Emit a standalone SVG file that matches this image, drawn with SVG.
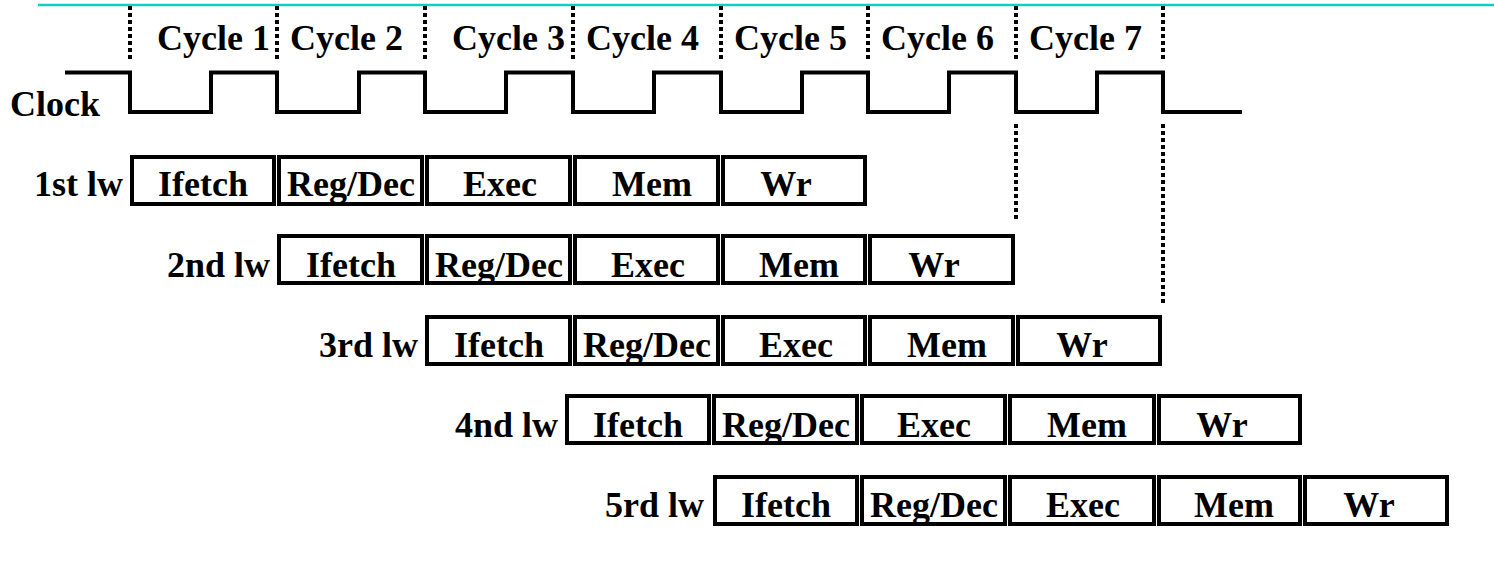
<svg xmlns="http://www.w3.org/2000/svg" width="1494" height="583" viewBox="0 0 1494 583">
  <style>
    text { font-family: "Liberation Serif", "Times New Roman", serif; font-weight: bold; font-size: 36px; fill: #000; }
    .stage rect { fill: #fff; stroke: #000; stroke-width: 4; }
    .stage text { text-anchor: middle; }
    .lbl { text-anchor: end; }
    .dot { stroke: #000; stroke-width: 4; stroke-dasharray: 4 3; fill: none; }
    .wave { stroke: #000; stroke-width: 4; fill: none; stroke-linejoin: miter; }
  </style>

  <rect x="0" y="0" width="1494" height="583" fill="#fff"/>

  <!-- title rule -->
  <line x1="38" y1="5" x2="1494" y2="5" stroke="#0CD0C0" stroke-width="2.5"/>

  <!-- cycle boundary markers -->
  <g id="connectors">
    <line class="dot" x1="130" y1="6" x2="130" y2="62"/>
    <line class="dot" x1="277" y1="6" x2="277" y2="62"/>
    <line class="dot" x1="425" y1="6" x2="425" y2="62"/>
    <line class="dot" x1="573" y1="6" x2="573" y2="62"/>
    <line class="dot" x1="721" y1="6" x2="721" y2="62"/>
    <line class="dot" x1="868" y1="6" x2="868" y2="62"/>
    <line class="dot" x1="1016" y1="6" x2="1016" y2="62"/>
    <line class="dot" x1="1163" y1="6" x2="1163" y2="62"/>
    <line class="dot" x1="1016" y1="124" x2="1016" y2="222"/>
    <line class="dot" x1="1163" y1="124" x2="1163" y2="303"/>
  </g>

  <!-- cycle labels -->
  <g id="cycles">
    <text x="157" y="50">Cycle 1</text>
    <text x="290" y="50">Cycle 2</text>
    <text x="452" y="50">Cycle 3</text>
    <text x="586" y="50">Cycle 4</text>
    <text x="734" y="50">Cycle 5</text>
    <text x="881" y="50">Cycle 6</text>
    <text x="1029" y="50">Cycle 7</text>
  </g>

  <!-- clock waveform -->
  <g id="clock">
    <text x="10" y="116">Clock</text>
    <path class="wave" d="M65,72.5 H130 V112 H211 V72.5 H277 V112 H359 V72.5 H425 V112 H506 V72.5 H573 V112 H654 V72.5 H721 V112 H802 V72.5 H868 V112 H949 V72.5 H1016 V112 H1097 V72.5 H1163 V112 H1242"/>
  </g>

  <!-- 1st lw -->
  <g id="lw1">
    <text class="lbl" x="123" y="196">1st lw</text>
    <g class="stage"><rect x="132" y="157" width="142" height="47"/><text x="203" y="196">Ifetch</text></g>
    <g class="stage"><rect x="279" y="157" width="143" height="47"/><text x="351" y="196">Reg/Dec</text></g>
    <g class="stage"><rect x="427" y="157" width="143" height="47"/><text x="500" y="196">Exec</text></g>
    <g class="stage"><rect x="575" y="157" width="143" height="47"/><text x="652" y="196">Mem</text></g>
    <g class="stage"><rect x="723" y="157" width="142" height="47"/><text x="786" y="196">Wr</text></g>
  </g>

  <!-- 2nd lw -->
  <g id="lw2">
    <text class="lbl" x="270" y="277">2nd lw</text>
    <g class="stage"><rect x="279" y="236" width="143" height="47"/><text x="351" y="277">Ifetch</text></g>
    <g class="stage"><rect x="427" y="236" width="143" height="47"/><text x="499" y="277">Reg/Dec</text></g>
    <g class="stage"><rect x="575" y="236" width="143" height="47"/><text x="648" y="277">Exec</text></g>
    <g class="stage"><rect x="723" y="236" width="142" height="47"/><text x="799" y="277">Mem</text></g>
    <g class="stage"><rect x="870" y="236" width="143" height="47"/><text x="934" y="277">Wr</text></g>
  </g>

  <!-- 3rd lw -->
  <g id="lw3">
    <text class="lbl" x="418" y="357">3rd lw</text>
    <g class="stage"><rect x="427" y="317" width="143" height="47"/><text x="499" y="357">Ifetch</text></g>
    <g class="stage"><rect x="575" y="317" width="143" height="47"/><text x="647" y="357">Reg/Dec</text></g>
    <g class="stage"><rect x="723" y="317" width="142" height="47"/><text x="796" y="357">Exec</text></g>
    <g class="stage"><rect x="870" y="317" width="143" height="47"/><text x="947" y="357">Mem</text></g>
    <g class="stage"><rect x="1018" y="317" width="142" height="47"/><text x="1082" y="357">Wr</text></g>
  </g>

  <!-- 4th lw -->
  <g id="lw4">
    <text class="lbl" x="558" y="437">4nd lw</text>
    <g class="stage"><rect x="567" y="396" width="142" height="47"/><text x="638" y="437">Ifetch</text></g>
    <g class="stage"><rect x="714" y="396" width="143" height="47"/><text x="786" y="437">Reg/Dec</text></g>
    <g class="stage"><rect x="862" y="396" width="143" height="47"/><text x="934" y="437">Exec</text></g>
    <g class="stage"><rect x="1010" y="396" width="144" height="47"/><text x="1087" y="437">Mem</text></g>
    <g class="stage"><rect x="1159" y="396" width="141" height="47"/><text x="1222" y="437">Wr</text></g>
  </g>

  <!-- 5th lw -->
  <g id="lw5">
    <text class="lbl" x="704" y="517">5rd lw</text>
    <g class="stage"><rect x="715" y="477" width="142" height="47"/><text x="786" y="517">Ifetch</text></g>
    <g class="stage"><rect x="862" y="477" width="143" height="47"/><text x="934" y="517">Reg/Dec</text></g>
    <g class="stage"><rect x="1010" y="477" width="144" height="47"/><text x="1083" y="517">Exec</text></g>
    <g class="stage"><rect x="1159" y="477" width="141" height="47"/><text x="1234" y="517">Mem</text></g>
    <g class="stage"><rect x="1305" y="477" width="142" height="47"/><text x="1369" y="517">Wr</text></g>
  </g>
</svg>
